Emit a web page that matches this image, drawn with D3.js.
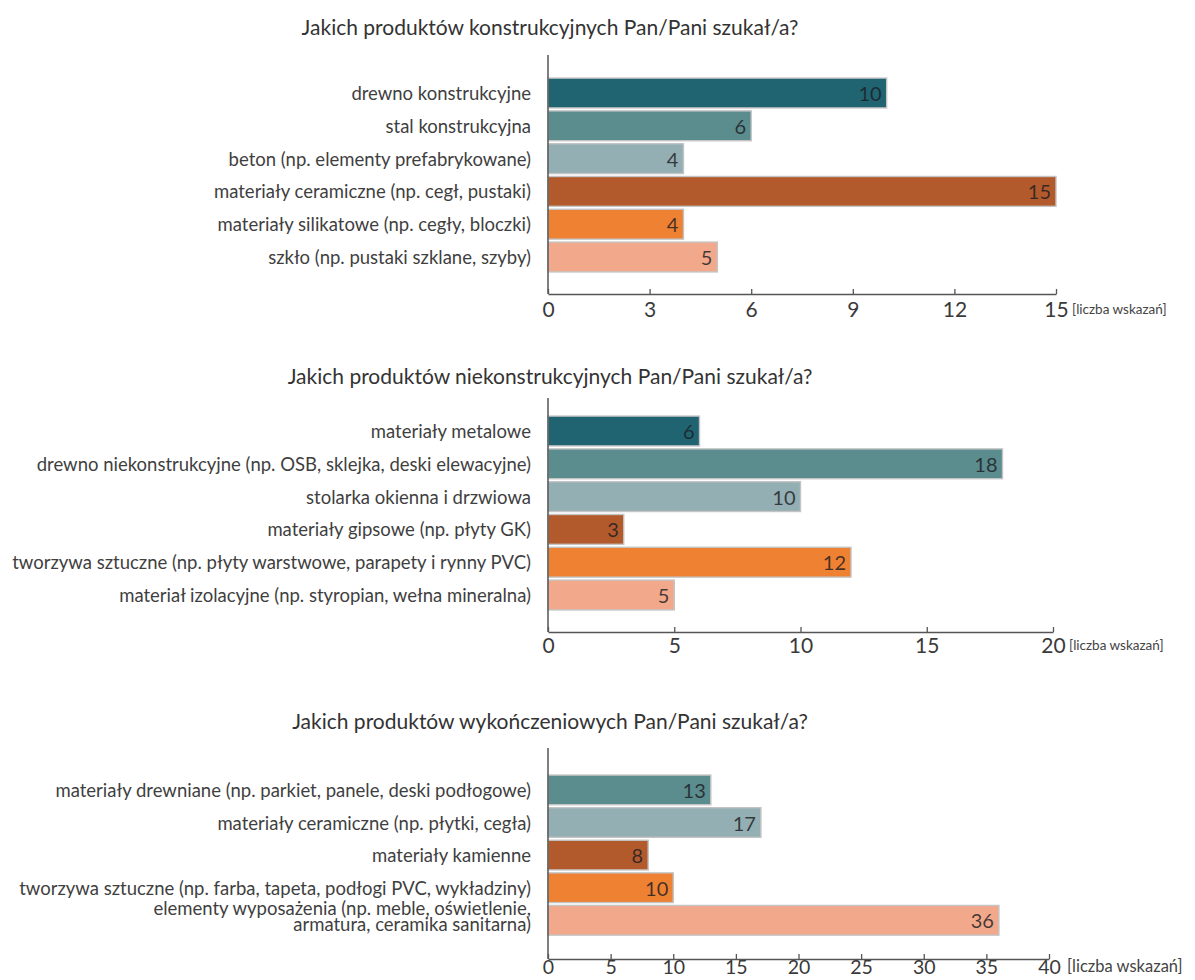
<!DOCTYPE html>
<html lang="pl">
<head>
<meta charset="utf-8">
<script src="https://cdn.jsdelivr.net/npm/d3@7"></script>
<style>
  html, body { margin: 0; padding: 0; background: #fff; }
  svg { display: block; font-family: Lato, "Open Sans", sans-serif; }
</style>
</head>
<body>
<svg id="chart" width="1195" height="980"></svg>
<script>
// Survey answers: number of mentions per product group
const titles = [
  "Jakich produktów konstrukcyjnych Pan/Pani szukał/a?",
  "Jakich produktów niekonstrukcyjnych Pan/Pani szukał/a?",
  "Jakich produktów wykończeniowych Pan/Pani szukał/a?"
];

const categoriesStructural = [
  "drewno konstrukcyjne",
  "stal konstrukcyjna",
  "beton (np. elementy prefabrykowane)",
  "materiały ceramiczne (np. cegł, pustaki)",
  "materiały silikatowe (np. cegły, bloczki)",
  "szkło (np. pustaki szklane, szyby)"
];
const valuesStructural = [10, 6, 4, 15, 4, 5];
const ticksStructural = [0, 3, 6, 9, 12, 15];

const categoriesNonStructural = [
  "materiały metalowe",
  "drewno niekonstrukcyjne (np. OSB, sklejka, deski elewacyjne)",
  "stolarka okienna i drzwiowa",
  "materiały gipsowe (np. płyty GK)",
  "tworzywa sztuczne (np. płyty warstwowe, parapety i rynny PVC)",
  "materiał izolacyjne (np. styropian, wełna mineralna)"
];
const valuesNonStructural = [6, 18, 10, 3, 12, 5];
const ticksNonStructural = [0, 5, 10, 15, 20];

const categoriesFinishing = [
  "materiały drewniane (np. parkiet, panele, deski podłogowe)",
  "materiały ceramiczne (np. płytki, cegła)",
  "materiały kamienne",
  "tworzywa sztuczne (np. farba, tapeta, podłogi PVC, wykładziny)",
  "elementy wyposażenia (np. meble, oświetlenie,\narmatura, ceramika sanitarna)"
];
const valuesFinishing = [13, 17, 8, 10, 36];
const ticksFinishing = [0, 5, 10, 15, 20, 25, 30, 35, 40];

const unitLabel = "[liczba wskazań]";

const palette = ["#1f6470", "#5b8c8e", "#94afb3", "#b25a2c", "#ef8132", "#f2a98b"];

const svg = d3.select("#chart");
const x0 = 548;

// layout of each panel
const panels = [
  { title: titles[0], cats: categoriesStructural, vals: valuesStructural, ticks: ticksStructural,
    titleY: 30, axisTop: 55, bandTop: 76.6, step: 32.8, axisY: 294, xEnd: 1056, labelPad: 8,
    tickFont: 21, colorOffset: 0, unitX: 1072, unitFont: 13.5 },
  { title: titles[1], cats: categoriesNonStructural, vals: valuesNonStructural, ticks: ticksNonStructural,
    titleY: 379, axisTop: 398, bandTop: 414.6, step: 32.8, axisY: 632, xEnd: 1053, labelPad: 6,
    tickFont: 21, colorOffset: 0, unitX: 1069, unitFont: 13.5 },
  { title: titles[2], cats: categoriesFinishing, vals: valuesFinishing, ticks: ticksFinishing,
    titleY: 724, axisTop: 748, bandTop: 773.6, step: 32.6, axisY: 959, xEnd: 1049, labelPad: 1,
    tickFont: 19.5, colorOffset: 1, unitX: 1067, unitFont: 16.5 }
];

panels.forEach(p => {
  const g = svg.append("g");
  const n = p.cats.length;

  const x = d3.scaleLinear()
    .domain([0, p.ticks[p.ticks.length - 1]])
    .range([x0, p.xEnd]);

  const y = d3.scaleBand()
    .domain(p.cats)
    .range([p.bandTop, p.bandTop + n * p.step])
    .paddingInner(0.09)
    .paddingOuter(0.045);

  // title
  g.append("text")
    .attr("x", 550)
    .attr("y", p.titleY)
    .attr("text-anchor", "middle")
    .attr("dominant-baseline", "middle")
    .attr("font-size", 21)
    .attr("fill", "#333")
    .text(p.title);

  // bars
  g.selectAll("rect.bar")
    .data(p.vals)
    .join("rect")
    .attr("class", "bar")
    .attr("x", x(0))
    .attr("y", (d, i) => y(p.cats[i]))
    .attr("width", d => x(d) - x(0))
    .attr("height", y.bandwidth())
    .attr("fill", (d, i) => palette[i + p.colorOffset])
    .attr("stroke", "#c4c4c4")
    .attr("stroke-width", 1.4);

  // value labels at the bar end
  g.selectAll("text.val")
    .data(p.vals)
    .join("text")
    .attr("class", "val")
    .attr("x", d => x(d) - 5)
    .attr("y", (d, i) => y(p.cats[i]) + y.bandwidth() / 2)
    .attr("text-anchor", "end")
    .attr("dominant-baseline", "central")
    .attr("font-size", 20)
    .attr("fill", "#1d1d24")
    .attr("fill-opacity", 0.82)
    .text(d => d);

  // category labels (may span two lines)
  g.selectAll("text.cat")
    .data(p.cats)
    .join("text")
    .attr("class", "cat")
    .attr("text-anchor", "end")
    .attr("font-size", 18.5)
    .attr("fill", "#3f3f3f")
    .each(function (d) {
      const lines = d.split("\n");
      const cy = y(d) + y.bandwidth() / 2;
      const lh = 16;
      const shift = lines.length > 1 ? -4 : 0;
      const t = d3.select(this);
      lines.forEach((line, k) => {
        t.append("tspan")
          .attr("x", 531)
          .attr("y", cy + shift + (k - (lines.length - 1) / 2) * lh)
          .attr("dominant-baseline", "central")
          .text(line);
      });
    });

  // vertical axis line
  g.append("line")
    .attr("x1", x0).attr("x2", x0)
    .attr("y1", p.axisTop).attr("y2", p.axisY)
    .attr("stroke", "#555")
    .attr("stroke-width", 1.5);

  // horizontal value axis
  const ax = g.append("g")
    .attr("transform", `translate(0,${p.axisY})`)
    .call(d3.axisBottom(x)
      .tickValues(p.ticks)
      .tickSizeInner(-5)
      .tickSizeOuter(0)
      .tickPadding(p.labelPad)
      .tickFormat(d3.format("d")));
  ax.select(".domain").attr("stroke", "#555").attr("stroke-width", 1.5);
  ax.selectAll(".tick line").attr("stroke", "#555").attr("stroke-width", 1.3);
  ax.selectAll(".tick text")
    .attr("font-family", "Lato, 'Open Sans', sans-serif")
    .attr("font-size", p.tickFont)
    .attr("fill", "#3a3a3a");

  // unit label next to the last tick
  g.append("text")
    .attr("x", p.unitX)
    .attr("y", p.axisY + p.labelPad + p.tickFont * 0.4)
    .attr("dominant-baseline", "middle")
    .attr("font-size", p.unitFont)
    .attr("fill", "#444")
    .text(unitLabel);
});
</script>
</body>
</html>
